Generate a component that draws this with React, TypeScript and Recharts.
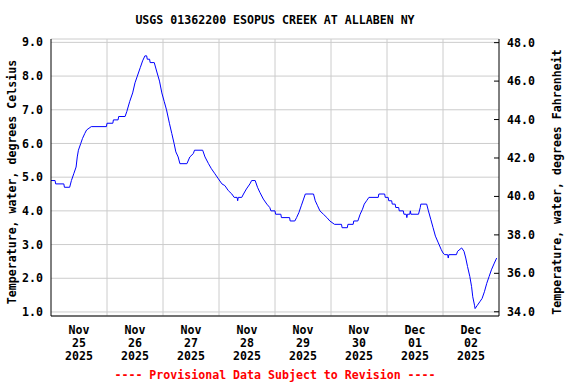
import React from 'react';
import { LineChart, Line, XAxis, YAxis, CartesianGrid } from 'recharts';

// hours since Nov 25 2025 00:00, water temperature in Celsius
const hours = [
  0, 1.75, 2, 5.5, 5.75, 8, 8.75, 9.75, 10.75, 11.25, 11.75, 12.75, 13.5, 14.5, 15.25, 17.25, 23.75, 24, 26.5, 26.75,
  28.75, 29, 31.75, 32.5, 33.75, 35, 36, 37, 38.25, 39.25, 40.25, 41, 41.25, 42.25, 42.5, 44.25, 45.25, 46.5, 47.5, 48.5,
  49.5, 50.75, 51.75, 52.75, 53.5, 54.5, 55.25, 58.25, 59.5, 61, 61.5, 65, 66, 67.5, 68.75, 70.25, 71.75, 73.25, 74.5, 76,
  77.5, 78.5, 79.75, 80, 80.25, 81.75, 82.5, 83.75, 85.25, 86, 87.5, 88.5, 89.5, 91, 92.5, 93.75, 94.25, 96, 96.25, 98.5,
  98.75, 102.25, 102.5, 104.5, 105.25, 106.25, 107.25, 108.25, 109, 112.5, 113.25, 114.25, 115.25, 116.75, 118.25, 119.5,
  121.5, 124.5, 124.75, 127, 127.25, 129.5, 129.75, 131.5, 132.5, 133.5, 134.25, 135.25, 136.25, 140.25, 140.5, 143,
  143.25, 144.5, 144.75, 146, 146.25, 147.5, 147.75, 149, 149.25, 151, 151.25, 152.25, 152.5, 152.75, 153.75, 154, 154.25,
  157.5, 158.25, 158.5, 161, 161.75, 162.75, 163.75, 164.75, 166, 167.25, 168, 168.75, 170, 170.25, 170.5, 173.75, 174.25,
  176, 177, 177.75, 178.5, 179.5, 180.25, 180.75, 181.5, 181.75, 182.75, 183.75, 184.75, 185.75, 186.75, 187.75, 188.75,
  190, 191,
];
const celsius = [
  4.9, 4.9, 4.8, 4.8, 4.7, 4.7, 4.9, 5.1, 5.3, 5.6, 5.8, 6.0, 6.15, 6.3, 6.4, 6.5, 6.5, 6.6, 6.6, 6.7,
  6.7, 6.8, 6.8, 6.95, 7.25, 7.5, 7.8, 8.0, 8.25, 8.45, 8.6, 8.6, 8.5, 8.5, 8.4, 8.4, 8.15, 7.85, 7.5, 7.25,
  7.0, 6.6, 6.3, 6.0, 5.75, 5.6, 5.4, 5.4, 5.6, 5.7, 5.8, 5.8, 5.6, 5.4, 5.25, 5.1, 4.95, 4.8, 4.75, 4.6,
  4.5, 4.4, 4.4, 4.3, 4.4, 4.4, 4.5, 4.65, 4.8, 4.9, 4.9, 4.7, 4.55, 4.35, 4.2, 4.1, 4.0, 4.0, 3.9, 3.9,
  3.8, 3.8, 3.7, 3.7, 3.8, 3.95, 4.15, 4.35, 4.5, 4.5, 4.3, 4.15, 4.0, 3.9, 3.8, 3.7,
  3.6, 3.6, 3.5, 3.5, 3.6, 3.6, 3.7, 3.7, 3.9, 4.05, 4.2, 4.3, 4.4, 4.4, 4.5, 4.5,
  4.4, 4.4, 4.3, 4.3, 4.2, 4.2, 4.1, 4.1, 4.0, 4.0, 3.9, 3.9, 3.8, 3.9, 3.9, 4.0, 3.9,
  3.9, 4.1, 4.2, 4.2, 4.0, 3.75, 3.5, 3.25, 3.05, 2.85, 2.75, 2.7, 2.7, 2.6, 2.7, 2.7, 2.8,
  2.9, 2.8, 2.6, 2.35, 2.05, 1.75, 1.45, 1.2, 1.1, 1.2, 1.3, 1.4, 1.6, 1.85, 2.05, 2.25,
  2.45, 2.6,
];

const labelHours = [12, 36, 60, 84, 108, 132, 156, 180];
const labelMonths = ['Nov', 'Nov', 'Nov', 'Nov', 'Nov', 'Nov', 'Dec', 'Dec'];
const labelDays = ['25', '26', '27', '28', '29', '30', '01', '02'];
const labelYear = '2025';
const midnightHours = [24, 48, 72, 96, 120, 144, 168];
const hourDomain = [0, 192];
const celsiusTicks = [1, 2, 3, 4, 5, 6, 7, 8, 9];
const fahrenheitTicks = [34, 36, 38, 40, 42, 44, 46, 48];

const data = hours.map((h, i) => ({ h, c: celsius[i] }));

const FONT = '"DejaVu Sans Mono", "Liberation Mono", monospace';
const FS = 11.6;

const XTick = (props: any) => {
  const { x, y, payload } = props;
  const i = labelHours.indexOf(payload.value);
  return (
    <g>
      <text x={x} y={y} textAnchor="middle" fontFamily={FONT} fontSize={FS} fontWeight="bold" fill="#000">
        <tspan x={x} dy={18}>{labelMonths[i]}</tspan>
        <tspan x={x} dy={13}>{labelDays[i]}</tspan>
        <tspan x={x} dy={13}>{labelYear}</tspan>
      </text>
    </g>
  );
};

const RightTick = (props: any) => {
  const { x, y, payload } = props;
  return (
    <g>
      <line x1={x - 13} x2={x - 8} y1={y} y2={y} stroke="#000" />
      <text x={x} y={y} dy={4} textAnchor="start" fontFamily={FONT} fontSize={FS} fontWeight="bold" fill="#000">
        {payload.value.toFixed(1)}
      </text>
    </g>
  );
};

const sideLabel = (text: string, dx: number) => (props: any) => {
  const vb = props.viewBox;
  const cx = vb.x + dx;
  const cy = 182;
  return (
    <text
      x={cx}
      y={cy}
      transform={`rotate(-90, ${cx}, ${cy})`}
      textAnchor="middle"
      dominantBaseline="central"
      fontFamily={FONT}
      fontSize={FS}
      fontWeight="bold"
      fill="#000"
    >
      {text}
    </text>
  );
};

// vertical grid at each midnight, placed with the x scale
const midnightLines = (args: any) => {
  const scale = args?.xAxis?.scale;
  const off = args.offset;
  return midnightHours.map((h) =>
    typeof scale === 'function'
      ? scale(h)
      : off.left + ((h - hourDomain[0]) / (hourDomain[1] - hourDomain[0])) * off.width,
  );
};

const App: React.FC = () => {
  return (
    <div style={{ position: 'absolute', left: 0, top: 0, width: 576, height: 384, background: '#fff' }}>
      <div
        style={{
          position: 'absolute', left: 0, top: 13, width: 550, textAlign: 'center',
          fontFamily: FONT, fontSize: FS, fontWeight: 'bold', lineHeight: '14px', color: '#000',
        }}
      >
        USGS 01362200 ESOPUS CREEK AT ALLABEN NY
      </div>
      <LineChart width={576} height={384} data={data} margin={{ top: 39, right: 0, bottom: 0, left: 0 }}>
        <CartesianGrid
          xAxisId="bottom"
          yAxisId="left"
          stroke="#cccccc"
          verticalCoordinatesGenerator={midnightLines}
        />
        <XAxis
          xAxisId="top"
          orientation="top"
          type="number"
          dataKey="h"
          domain={hourDomain}
          ticks={midnightHours}
          allowDataOverflow
          height={0}
          tick={false}
          tickLine={false}
          axisLine={{ stroke: '#000' }}
        />
        <XAxis
          xAxisId="bottom"
          type="number"
          dataKey="h"
          domain={hourDomain}
          ticks={labelHours}
          allowDataOverflow
          height={68}
          tickSize={0}
          tickMargin={0}
          tickLine={false}
          axisLine={{ stroke: '#000' }}
          tick={<XTick />}
          interval={0}
        />
        <YAxis
          yAxisId="left"
          type="number"
          domain={[0.88, 9.1]}
          ticks={celsiusTicks}
          allowDataOverflow
          width={51}
          tickSize={0}
          tickMargin={8}
          tickLine={false}
          axisLine={{ stroke: '#000' }}
          tickFormatter={(v: number) => v.toFixed(1)}
          tick={{ fontFamily: FONT, fontSize: FS, fontWeight: 'bold', fill: '#000' }}
          interval={0}
          label={{ content: sideLabel('Temperature, water, degrees Celsius', 12) }}
        />
        <YAxis
          yAxisId="right"
          orientation="right"
          type="number"
          domain={[33.78, 48.19]}
          ticks={fahrenheitTicks}
          allowDataOverflow
          width={77}
          tickSize={0}
          tickMargin={8}
          tickLine={false}
          axisLine={{ stroke: '#000' }}
          tick={<RightTick />}
          interval={0}
          label={{ content: sideLabel('Temperature, water, degrees Fahrenheit', 58) }}
        />
        <Line
          xAxisId="bottom"
          yAxisId="left"
          type="linear"
          dataKey="c"
          stroke="#0000ff"
          strokeWidth={1}
          dot={false}
          isAnimationActive={false}
        />
      </LineChart>
      <div
        style={{
          position: 'absolute', left: 0, top: 368, width: 550, textAlign: 'center',
          fontFamily: FONT, fontSize: FS, fontWeight: 'bold', lineHeight: '14px', color: '#ff0000',
        }}
      >
        ---- Provisional Data Subject to Revision ----
      </div>
    </div>
  );
};

export default App;
